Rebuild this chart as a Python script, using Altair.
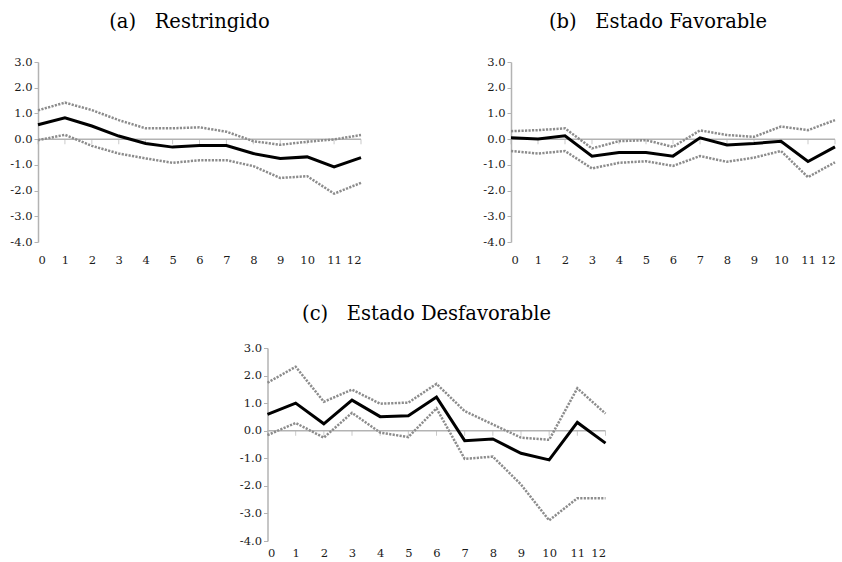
import altair as alt
import pandas as pd

# Horizons (quarters after the shock)
horizons = list(range(13))

# (a) Restringido
a_mid = [0.56, 0.83, 0.51, 0.12, -0.17, -0.31, -0.25, -0.25, -0.56, -0.75, -0.69, -1.08, -0.72]
a_hi = [1.12, 1.42, 1.13, 0.74, 0.42, 0.42, 0.46, 0.29, -0.08, -0.22, -0.10, -0.01, 0.16]
a_lo = [-0.04, 0.17, -0.26, -0.56, -0.75, -0.92, -0.82, -0.82, -1.05, -1.51, -1.44, -2.12, -1.70]

# (b) Estado Favorable
b_mid = [0.05, 0.01, 0.13, -0.66, -0.52, -0.52, -0.66, 0.05, -0.23, -0.17, -0.08, -0.87, -0.30]
b_hi = [0.31, 0.35, 0.42, -0.36, -0.08, -0.04, -0.30, 0.34, 0.16, 0.09, 0.49, 0.35, 0.74]
b_lo = [-0.46, -0.56, -0.46, -1.14, -0.92, -0.86, -1.04, -0.66, -0.88, -0.72, -0.46, -1.48, -0.90]

# (c) Estado Desfavorable
c_mid = [0.59, 1.00, 0.25, 1.11, 0.51, 0.54, 1.22, -0.36, -0.30, -0.82, -1.06, 0.30, -0.45]
c_hi = [1.74, 2.32, 1.05, 1.49, 0.98, 1.02, 1.70, 0.71, 0.23, -0.25, -0.33, 1.54, 0.62]
c_lo = [-0.16, 0.28, -0.25, 0.65, -0.07, -0.23, 0.81, -1.02, -0.94, -1.95, -3.25, -2.45, -2.45]

y_ticks = [-4, -3, -2, -1, 0, 1, 2, 3]

SERIF = "DejaVu Serif"
AXIS_GRAY = "#b3b3b3"
BAND_GRAY = "#8c8c8c"
GAP = "\u00a0\u00a0\u00a0"


def panel(title, mid, lo, hi, width, height, dx, offset, label_pad):
    band = pd.DataFrame({
        "h": horizons * 2,
        "v": hi + lo,
        "serie": ["sup"] * len(horizons) + ["inf"] * len(horizons),
    })
    central = pd.DataFrame({"h": horizons, "v": mid})
    ticks = pd.DataFrame({"h": horizons, "v": [0] * len(horizons)})
    zero = pd.DataFrame({"h": [min(horizons)], "h2": [max(horizons)], "v": [0]})

    x_scale = alt.Scale(domain=[min(horizons), max(horizons)], nice=False, zero=False)
    y_scale = alt.Scale(domain=[min(y_ticks), max(y_ticks)], nice=False)
    x_axis = alt.Axis(values=horizons, format="d", domain=False, ticks=False, grid=False,
                      title=None, labelPadding=label_pad)
    y_axis = alt.Axis(values=y_ticks, grid=False, title=None,
                      labelExpr="replace(format(datum.value, '.1f'), '−', '-')")

    base_x = alt.X("h:Q", scale=x_scale, axis=x_axis)
    base_y = alt.Y("v:Q", scale=y_scale, axis=y_axis)

    zero_line = alt.Chart(zero).mark_rule(color=AXIS_GRAY, strokeWidth=1.5).encode(
        x=base_x, x2="h2:Q", y=base_y)
    tick_marks = alt.Chart(ticks).mark_tick(
        orient="vertical", size=5, thickness=1, color=AXIS_GRAY, yOffset=2.5
    ).encode(x=base_x, y=base_y)
    bands = alt.Chart(band).mark_line(
        color=BAND_GRAY, strokeWidth=2.5, strokeDash=[2.2, 1.3]
    ).encode(x=base_x, y=base_y, detail="serie:N")
    line = alt.Chart(central).mark_line(color="black", strokeWidth=3).encode(
        x=base_x, y=base_y)

    return alt.layer(zero_line, tick_marks, bands, line).properties(
        width=width, height=height,
        title=alt.TitleParams(title, dx=dx, offset=offset),
    )


pa = panel("(a)" + GAP + "Restringido", a_mid, a_lo, a_hi, 323, 180, -10, 24, 12)
pb = panel("(b)" + GAP + "Estado Favorable", b_mid, b_lo, b_hi, 324, 180, -15, 24, 12)
pc = panel("(c)" + GAP + "Estado Desfavorable", c_mid, c_lo, c_hi, 338, 193, -10, 18, 6)

chart = alt.vconcat(
    alt.hconcat(pa, pb, spacing=115),
    pc,
    spacing=37,
    center=True,
).properties(
    padding={"left": 9, "top": 11, "right": 0, "bottom": 0},
).configure_view(
    stroke=None
).configure_axis(
    labelFont=SERIF, labelFontSize=11.5, labelColor="#1a1a1a",
    domainColor=AXIS_GRAY, domainWidth=1.5,
    tickColor=AXIS_GRAY, tickSize=4, tickWidth=1,
).configure_title(
    font=SERIF, fontSize=19.5, fontWeight="normal", color="black", anchor="middle",
)

chart.save("out.html", embed_options={"renderer": "svg", "actions": False})
